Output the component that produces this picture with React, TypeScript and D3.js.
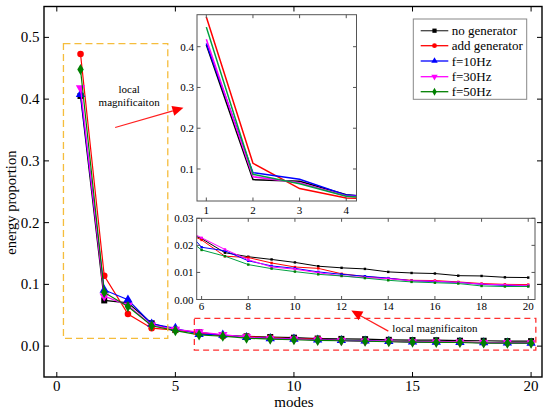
import React, { useEffect } from "react";
import * as d3 from "d3";

const modes = [1, 2, 3, 4, 5, 6, 7, 8, 9, 10, 11, 12, 13, 14, 15, 16, 17, 18, 19, 20];
const noGenerator = [0.405, 0.074, 0.070, 0.037, 0.026, 0.0225, 0.0173, 0.0158, 0.0148, 0.0137, 0.0123, 0.0117, 0.0113, 0.0102, 0.0098, 0.0096, 0.0088, 0.0087, 0.0082, 0.0081];
const addGenerator = [0.473, 0.114, 0.052, 0.029, 0.026, 0.022, 0.016, 0.0155, 0.0135, 0.012, 0.0115, 0.0095, 0.0085, 0.0078, 0.0071, 0.007, 0.0065, 0.0059, 0.0056, 0.0055];
const f10 = [0.408, 0.091, 0.075, 0.036, 0.029, 0.0193, 0.018, 0.0143, 0.0124, 0.0115, 0.0102, 0.0093, 0.0086, 0.0079, 0.0069, 0.0066, 0.0063, 0.0056, 0.0052, 0.005];
const f30 = [0.418, 0.081, 0.066, 0.034, 0.027, 0.0228, 0.0185, 0.0147, 0.012, 0.0112, 0.0099, 0.0087, 0.0081, 0.0077, 0.0069, 0.0068, 0.0063, 0.0057, 0.0054, 0.0052];
const f50 = [0.448, 0.087, 0.064, 0.033, 0.025, 0.0183, 0.016, 0.0129, 0.0114, 0.0103, 0.0093, 0.0087, 0.0079, 0.0071, 0.0065, 0.0062, 0.0059, 0.005, 0.0048, 0.0048];

const seriesNames = ["no generator", "add generator", "f=10Hz", "f=30Hz", "f=50Hz"];
const seriesValues = [noGenerator, addGenerator, f10, f30, f50];
const seriesColors = ["#000000", "#ff0000", "#0000ff", "#ff00ff", "#008000"];
const seriesSymbols = [d3.symbolSquare, d3.symbolCircle, d3.symbolTriangle, d3.symbolTriangle, d3.symbolDiamond];
const seriesRotate = [0, 0, 0, 180, 0];
const seriesSizes = [36, 34, 38, 38, 36];

const mainXTicks = [0, 5, 10, 15, 20];
const mainYTicks = [0, 0.1, 0.2, 0.3, 0.4, 0.5];
const topXTicks = [1, 2, 3, 4];
const topYTicks = [0.1, 0.2, 0.3, 0.4];
const lowXTicks = [6, 8, 10, 12, 14, 16, 18, 20];
const lowYTicks = [0, 0.01, 0.02, 0.03];

const FONT = "Liberation Serif, Times New Roman, DejaVu Serif, serif";

export default function App() {
  useEffect(() => {
    document.body.style.margin = "0";
  }, []);

  const W = 550, H = 412;
  const x = d3.scaleLinear().domain([-0.54, 20.46]).range([44, 542]);
  const y = d3.scaleLinear().domain([-0.05, 0.55]).range([377, 6.5]);

  const tx = d3.scaleLinear().domain([0.8, 4.22]).range([197, 356.5]);
  const ty = d3.scaleLinear().domain([0.0215, 0.4785]).range([201, 14.7]);

  const lx = d3.scaleLinear().domain([5.79, 20.29]).range([196.7, 535]);
  const ly = d3.scaleLinear().domain([0, 0.03]).range([299.5, 218.3]);

  const mkLine = (xs: any, ys: any) =>
    d3.line<number>().x((_, i) => xs(modes[i])).y((v) => ys(v));

  const symPath = (i: number, size: number) => d3.symbol().type(seriesSymbols[i]).size(size)() as string;

  const frame = (xs: any, ys: any, color: string, sw: number) => {
    const [x0, x1] = xs.range();
    const [y0, y1] = ys.range();
    return <rect x={x0} y={y1} width={x1 - x0} height={y0 - y1} fill="none" stroke={color} strokeWidth={sw} />;
  };

  const ticksX = (xs: any, ys: any, ticks: number[], len: number, color: string) => {
    const [y0, y1] = ys.range();
    return ticks.map((t) => (
      <g key={"tx" + t}>
        <line x1={xs(t)} x2={xs(t)} y1={y0} y2={y0 - len} stroke={color} strokeWidth={1} />
        <line x1={xs(t)} x2={xs(t)} y1={y1} y2={y1 + len} stroke={color} strokeWidth={1} />
      </g>
    ));
  };
  const ticksY = (xs: any, ys: any, ticks: number[], len: number, color: string) => {
    const [x0, x1] = xs.range();
    return ticks.map((t) => (
      <g key={"ty" + t}>
        <line x1={x0} x2={x0 + len} y1={ys(t)} y2={ys(t)} stroke={color} strokeWidth={1} />
        <line x1={x1} x2={x1 - len} y1={ys(t)} y2={ys(t)} stroke={color} strokeWidth={1} />
      </g>
    ));
  };

  // annotation positions (data units of main plot)
  const yellowBox = { x0: 0.28, x1: 4.68, y0: 0.0125, y1: 0.49 };
  const redBox = { x0: 5.8, x1: 20.2, y0: -0.0065, y1: 0.045 };
  const arrow1 = { x0: 2.46, y0: 0.354, x1: 5.34, y1: 0.386 };
  const arrow2 = { x0: 13.98, y0: 0.0243, x1: 12.42, y1: 0.0575 };

  const arrowHead = (a: any) => {
    const X0 = x(a.x0), Y0 = y(a.y0), X1 = x(a.x1), Y1 = y(a.y1);
    const ang = Math.atan2(Y1 - Y0, X1 - X0);
    const L = 11, Wd = 5;
    const bx = X1 - L * Math.cos(ang), by = Y1 - L * Math.sin(ang);
    const px = -Math.sin(ang) * Wd, py = Math.cos(ang) * Wd;
    return (
      <g>
        <line x1={X0} y1={Y0} x2={bx} y2={by} stroke="#ff2020" strokeWidth={1.2} />
        <path d={`M${X1},${Y1}L${bx + px},${by + py}L${bx - px},${by - py}Z`} fill="#ff0000" />
      </g>
    );
  };

  const legendX = 413.3, legendY = 19, legendW = 113.4, legendH = 80.3;
  const legendRows = [30.7, 45.7, 61, 76.7, 91.7];

  return (
    <svg width={W} height={H} style={{ display: "block", position: "absolute", left: 0, top: 0, background: "#fff", fontFamily: FONT }}>
      <defs>
        <clipPath id="clipMain"><rect x={44} y={6.5} width={498} height={370.5} /></clipPath>
        <clipPath id="clipTop"><rect x={197} y={14.7} width={159.5} height={186.3} /></clipPath>
        <clipPath id="clipLow"><rect x={196.7} y={218.3} width={338.3} height={81.2} /></clipPath>
      </defs>
      <rect x={0} y={0} width={W} height={H} fill="#fff" />

      {/* main data */}
      <g clipPath="url(#clipMain)">
        {seriesValues.map((vals, i) => (
          <g key={"m" + i}>
            <path d={mkLine(x, y)(vals) as string} fill="none" stroke={seriesColors[i]} strokeWidth={1.2} />
            {vals.map((v, j) => (
              <path key={j} d={symPath(i, seriesSizes[i])} transform={`translate(${x(modes[j])},${y(v)}) rotate(${seriesRotate[i]})`} fill={seriesColors[i]} />
            ))}
          </g>
        ))}
      </g>

      {/* main frame, ticks, labels */}
      {frame(x, y, "#000", 1.4)}
      {ticksX(x, y, mainXTicks, 5, "#000")}
      {ticksY(x, y, mainYTicks, 5, "#000")}
      {mainXTicks.map((t) => (
        <text key={"mxl" + t} x={x(t)} y={391} textAnchor="middle" fontSize={15}>{t}</text>
      ))}
      {mainYTicks.map((t) => (
        <text key={"myl" + t} x={39.5} y={y(t) + 5} textAnchor="end" fontSize={15}>{t.toFixed(1)}</text>
      ))}
      <text x={x(10)} y={406.5} textAnchor="middle" fontSize={15}>modes</text>
      <text transform={`translate(16,${y(0.2) - 20}) rotate(-90)`} textAnchor="middle" fontSize={14.5}>energy proportion</text>

      {/* annotations */}
      <rect x={x(yellowBox.x0)} y={y(yellowBox.y1)} width={x(yellowBox.x1) - x(yellowBox.x0)} height={y(yellowBox.y0) - y(yellowBox.y1)} fill="none" stroke="#f5bd3c" strokeWidth={1.3} strokeDasharray="7,4" />
      <rect x={x(redBox.x0)} y={y(redBox.y1)} width={x(redBox.x1) - x(redBox.x0)} height={y(redBox.y0) - y(redBox.y1)} fill="none" stroke="#ff3030" strokeWidth={1.3} strokeDasharray="6,4" />
      <text x={x(3.05)} y={y(0.41)} textAnchor="middle" fontSize={11}>local</text>
      <text x={x(3.05)} y={y(0.389)} textAnchor="middle" fontSize={11}>magnificaiton</text>
      {arrowHead(arrow1)}
      <text x={x(14.15)} y={y(0.0227)} textAnchor="start" fontSize={11}>local magnificaiton</text>
      {arrowHead(arrow2)}

      {/* top inset */}
      <rect x={197} y={14.7} width={159.5} height={186.3} fill="#fff" />
      <g clipPath="url(#clipTop)">
        {seriesValues.map((vals, i) => (
          <g key={"t" + i}>
            <path d={mkLine(tx, ty)(vals) as string} fill="none" stroke={seriesColors[i] === "#008000" ? "#00a040" : seriesColors[i]} strokeWidth={1.5} />
          </g>
        ))}
      </g>
      {frame(tx, ty, "#555", 1)}
      {ticksX(tx, ty, topXTicks, 3.5, "#555")}
      {ticksY(tx, ty, topYTicks, 3.5, "#555")}
      {topXTicks.map((t) => (
        <text key={"txl" + t} x={tx(t)} y={213.5} textAnchor="middle" fontSize={11}>{t}</text>
      ))}
      {topYTicks.map((t) => (
        <text key={"tyl" + t} x={194} y={ty(t) + 4} textAnchor="end" fontSize={11}>{t.toFixed(1)}</text>
      ))}

      {/* lower inset */}
      <rect x={196.7} y={218.3} width={338.3} height={81.2} fill="#fff" />
      <g clipPath="url(#clipLow)">
        {seriesValues.map((vals, i) => (
          <g key={"l" + i}>
            <path d={mkLine(lx, ly)(vals) as string} fill="none" stroke={seriesColors[i] === "#008000" ? "#00a040" : seriesColors[i]} strokeWidth={1} />
            {vals.map((v, j) => (
              <rect key={j} x={lx(modes[j]) - 1.2} y={ly(v) - 1.2} width={2.4} height={2.4} fill={seriesColors[i]} />
            ))}
          </g>
        ))}
      </g>
      {frame(lx, ly, "#555", 1)}
      {ticksX(lx, ly, lowXTicks, 3.5, "#555")}
      {ticksY(lx, ly, lowYTicks, 3.5, "#555")}
      {lowXTicks.map((t) => (
        <text key={"lxl" + t} x={lx(t)} y={310} textAnchor="middle" fontSize={11}>{t}</text>
      ))}
      {lowYTicks.map((t) => (
        <text key={"lyl" + t} x={193.5} y={ly(t) + 4} textAnchor="end" fontSize={11}>{t.toFixed(2)}</text>
      ))}

      {/* legend */}
      <rect x={legendX} y={legendY} width={legendW} height={legendH} fill="#fff" stroke="#888" strokeWidth={1} />
      {seriesNames.map((n, i) => (
        <g key={"lg" + i}>
          <line x1={420.7} x2={448.3} y1={legendRows[i]} y2={legendRows[i]} stroke={seriesColors[i] === "#000000" ? "#444" : seriesColors[i]} strokeWidth={1.3} />
          <path d={symPath(i, 18)} transform={`translate(434.5,${legendRows[i]}) rotate(${seriesRotate[i]})`} fill={seriesColors[i]} />
          <text x={451.7} y={legendRows[i] + 4.5} fontSize={13}>{n}</text>
        </g>
      ))}
    </svg>
  );
}
